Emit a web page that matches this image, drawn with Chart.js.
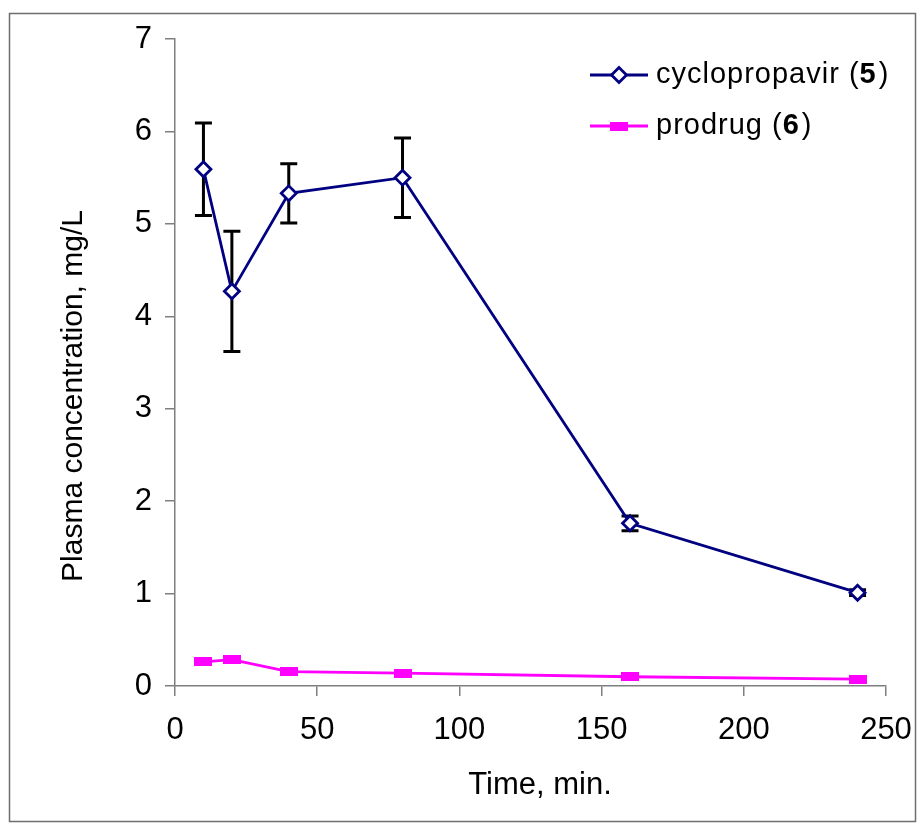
<!DOCTYPE html>
<html>
<head>
<meta charset="utf-8">
<title>Plasma concentration</title>
<script src="https://cdn.jsdelivr.net/npm/chart.js@4.4.0/dist/chart.umd.min.js"></script>
<style>
  html, body { margin: 0; padding: 0; background: #fff; }
  #wrap { width: 920px; height: 827px; }
</style>
</head>
<body>
<div id="wrap"><canvas id="plasma" width="920" height="827"></canvas></div>
<script>
// data
const times = [10, 20, 40, 80, 160, 240];
const cyclopropavir = [5.59, 4.27, 5.33, 5.50, 1.76, 1.01];
const cyclopropavirErr = [0.50, 0.65, 0.32, 0.43, 0.08, 0.03];
const prodrug = [0.26, 0.285, 0.155, 0.14, 0.10, 0.075];

const xTicks = [0, 50, 100, 150, 200, 250];
const yTicks = [0, 1, 2, 3, 4, 5, 6, 7];
const seriesNames = ['cyclopropavir', 'prodrug'];
const compoundNos = ['5', '6'];
const xTitle = 'Time, min.';
const yTitle = 'Plasma concentration, mg/L';

const FONT = "'Liberation Sans', Arial, sans-serif";
const NAVY = '#000080', PINK = '#ff00ff', AXIS = '#7f7f7f';

// flat pink marker used for the prodrug line
const pinkMark = document.createElement('canvas');
pinkMark.width = 18; pinkMark.height = 9;
const pm = pinkMark.getContext('2d');
pm.fillStyle = PINK;
pm.fillRect(0, 0, 18, 9);

// error bars, drawn under the markers
const errorBars = {
  id: 'errorBars',
  beforeDatasetsDraw(chart) {
    const {ctx, scales: {x, y}} = chart;
    ctx.save();
    ctx.strokeStyle = '#000';
    ctx.lineWidth = 3;
    times.forEach((t, i) => {
      const px = x.getPixelForValue(t);
      const top = y.getPixelForValue(cyclopropavir[i] + cyclopropavirErr[i]);
      const bot = y.getPixelForValue(cyclopropavir[i] - cyclopropavirErr[i]);
      ctx.beginPath();
      ctx.moveTo(px, top); ctx.lineTo(px, bot);
      ctx.moveTo(px - 8.5, top); ctx.lineTo(px + 8.5, top);
      ctx.moveTo(px - 8.5, bot); ctx.lineTo(px + 8.5, bot);
      ctx.stroke();
    });
    ctx.restore();
  }
};

// frame, legend and axis titles
const decor = {
  id: 'decor',
  afterDraw(chart) {
    const ctx = chart.ctx;
    ctx.save();
    ctx.strokeStyle = '#6e6e6e';
    ctx.lineWidth = 1.5;
    ctx.strokeRect(9.5, 13.5, 906, 808);

    // legend
    const rows = [75, 126];
    rows.forEach((ly, i) => {
      const ds = chart.data.datasets[i];
      ctx.strokeStyle = ds.borderColor;
      ctx.lineWidth = 2.8;
      ctx.beginPath();
      ctx.moveTo(590, ly); ctx.lineTo(648, ly);
      ctx.stroke();
      if (i === 0) {
        ctx.beginPath();
        ctx.moveTo(611.5, ly); ctx.lineTo(619, ly - 7.5);
        ctx.lineTo(626.5, ly); ctx.lineTo(619, ly + 7.5);
        ctx.closePath();
        ctx.fillStyle = '#fff';
        ctx.fill();
        ctx.stroke();
      } else {
        ctx.drawImage(pinkMark, 610, ly - 4.5);
      }
      ctx.fillStyle = '#000';
      ctx.textBaseline = 'middle';
      ctx.textAlign = 'left';
      ctx.letterSpacing = '1px';
      let tx = 656;
      ctx.font = '29px ' + FONT;
      const a = seriesNames[i] + ' (';
      ctx.fillText(a, tx, ly);
      tx += ctx.measureText(a).width;
      ctx.font = 'bold 29px ' + FONT;
      ctx.fillText(compoundNos[i], tx, ly);
      tx += ctx.measureText(compoundNos[i]).width;
      ctx.font = '29px ' + FONT;
      ctx.fillText(')', tx + 2, ly);
      ctx.letterSpacing = '0px';
    });

    // axis titles
    ctx.fillStyle = '#000';
    ctx.textAlign = 'center';
    ctx.textBaseline = 'middle';
    ctx.font = '31px ' + FONT;
    ctx.fillText(xTitle, 540, 785);
    ctx.translate(74, 396);
    ctx.rotate(-Math.PI / 2);
    ctx.font = '30px ' + FONT;
    ctx.fillText(yTitle, 0, 0);
    ctx.restore();
  }
};

new Chart(document.getElementById('plasma'), {
  type: 'line',
  data: {
    datasets: [{
      label: seriesNames[0],
      data: times.map((t, i) => ({x: t, y: cyclopropavir[i]})),
      borderColor: NAVY,
      borderWidth: 2.8,
      pointStyle: 'rectRot',
      pointRadius: 7.5,
      pointBorderWidth: 2.8,
      pointBorderColor: NAVY,
      pointBackgroundColor: '#fff',
      tension: 0
    }, {
      label: seriesNames[1],
      data: times.map((t, i) => ({x: t, y: prodrug[i]})),
      borderColor: PINK,
      borderWidth: 2.8,
      pointStyle: pinkMark,
      pointRadius: 9,
      tension: 0
    }]
  },
  options: {
    responsive: false,
    devicePixelRatio: 1,
    animation: false,
    layout: { padding: { top: 39, right: 34, bottom: 0, left: 0 } },
    plugins: { legend: { display: false }, tooltip: { enabled: false } },
    scales: {
      x: {
        type: 'linear', min: 0, max: 250,
        afterBuildTicks: s => { s.ticks = xTicks.map(v => ({value: v})); },
        afterFit: s => { s.height = 141; s.paddingLeft = 0; s.paddingRight = 0; },
        grid: { drawOnChartArea: false, tickLength: 10, color: AXIS, lineWidth: 1.5 },
        border: { color: AXIS, width: 1.5 },
        ticks: { color: '#000', padding: 16, maxRotation: 0, font: { family: FONT, size: 31 } }
      },
      y: {
        type: 'linear', min: 0, max: 7,
        afterBuildTicks: s => { s.ticks = yTicks.map(v => ({value: v})); },
        afterFit: s => { s.width = 175; s.paddingTop = 0; s.paddingBottom = 0; },
        grid: { drawOnChartArea: false, tickLength: 10, color: AXIS, lineWidth: 1.5 },
        border: { color: AXIS, width: 1.5 },
        ticks: { color: '#000', padding: 13, font: { family: FONT, size: 31 } }
      }
    }
  },
  plugins: [errorBars, decor]
});
</script>
</body>
</html>
